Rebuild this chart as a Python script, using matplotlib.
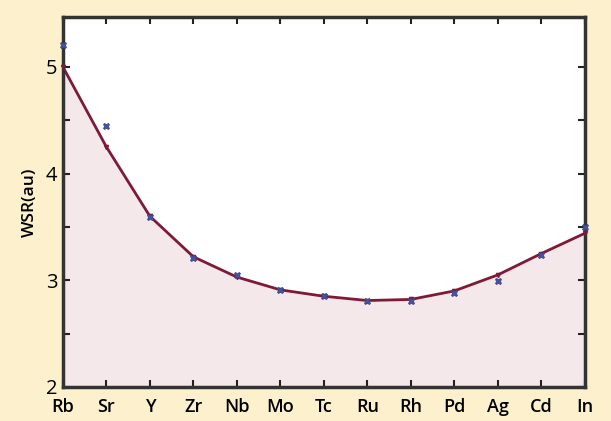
import matplotlib
matplotlib.use("Agg")
import matplotlib.pyplot as plt
from matplotlib.ticker import MultipleLocator

elements = ["Rb", "Sr", "Y", "Zr", "Nb", "Mo", "Tc", "Ru", "Rh", "Pd", "Ag", "Cd", "In"]
wsr_fit = [5.00, 4.25, 3.60, 3.22, 3.03, 2.91, 2.85, 2.81, 2.82, 2.90, 3.05, 3.25, 3.44]
wsr_data = [5.21, 4.45, 3.59, 3.21, 3.05, 2.91, 2.85, 2.81, 2.81, 2.88, 2.99, 3.24, 3.50]
y_label = "WSR(au)"

bg = "#fdf0cc"
fig = plt.figure(figsize=(6.11, 4.21), dpi=100, facecolor=bg)
ax = fig.add_axes([0.103, 0.081, 0.854, 0.879])
ax.set_facecolor("white")

x = list(range(len(elements)))
ax.fill_between(x, wsr_fit, 2, color="#f5e8eb", zorder=1)
ax.plot(x, wsr_fit, color="#7e1a38", lw=2.0, zorder=2)
ax.plot(x, wsr_fit, ls="none", marker="v", ms=3, color="#7e1a38", zorder=3, clip_on=False)
ax.plot(x, wsr_data, ls="none", marker="X", ms=5, color="#45529e",
        mec="#38458e", mew=0.5, zorder=4, clip_on=False)

ax.set_xlim(0, 12)
ax.set_ylim(2, 5.47)
ax.set_xticks(x)
ax.set_xticklabels(elements)
ax.yaxis.set_major_locator(MultipleLocator(1))
ax.yaxis.set_minor_locator(MultipleLocator(0.5))

ax.tick_params(axis="both", which="both", direction="in", top=True, right=True,
               color="#222222", width=1.5)
ax.tick_params(axis="both", which="major", length=5)
ax.tick_params(axis="y", which="minor", length=5)
ax.tick_params(axis="x", pad=8)
ax.tick_params(axis="y", pad=4)

for lab in ax.get_xticklabels():
    lab.set_fontfamily("Open Sans")
    lab.set_fontweight("semibold")
    lab.set_fontsize(13)
for lab in ax.get_yticklabels():
    lab.set_fontfamily("Open Sans")
    lab.set_fontsize(14.5)

ax.set_ylabel(y_label, fontfamily="Open Sans", fontweight="semibold", fontsize=12.5, labelpad=6)

for sp in ax.spines.values():
    sp.set_color("#333333")
    sp.set_linewidth(2.5)

fig.savefig("out.png", dpi=100, facecolor=bg)
